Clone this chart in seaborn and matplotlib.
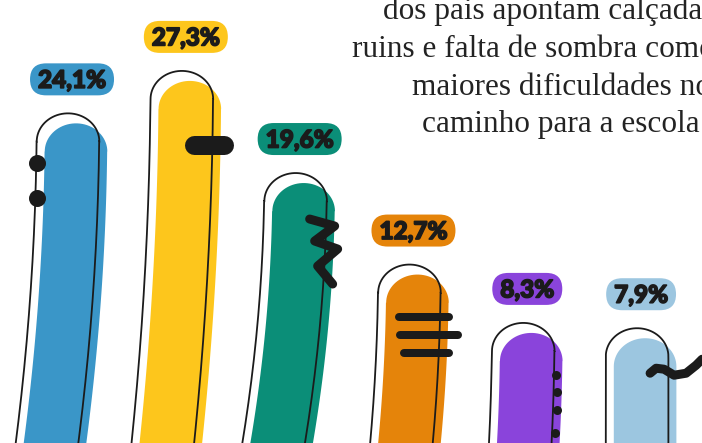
import numpy as np
import matplotlib
matplotlib.use("Agg")
import matplotlib.pyplot as plt
import matplotlib.patches as mpatches
import matplotlib.transforms as mtransforms
import matplotlib.patheffects as pe
from matplotlib.path import Path
import seaborn as sns

# data
categories = ["item 1", "item 2", "item 3", "item 4", "item 5", "item 6"]
values = [24.1, 27.3, 19.6, 12.7, 8.3, 7.9]
labels = [f"{v:.1f}".replace(".", ",") + "%" for v in values]
colors = ["#3a96c8", "#fdc61c", "#0b8e78", "#e5840a", "#8a44db", "#9cc6e0"]
title_lines = [
    "dos pais apontam calçadas",
    "ruins e falta de sombra como",
    "maiores dificuldades no",
    "caminho para a escola",
]

# style: sideways drift (px) of each tube at the bottom edge
drift = [-21, -19, -22, -8, -3, 0]
INK = "#1b1b1b"
W, H, DPI = 702, 443, 100
PT = 72.0 / DPI  # px -> pt

sns.set_theme(style="white")
fig = plt.figure(figsize=(W / DPI, H / DPI), dpi=DPI)
ax = fig.add_axes([0, 0, 1, 1])

sns.barplot(x=categories, y=values, hue=categories, palette=colors,
            width=0.55, legend=False, saturation=1, ax=ax)
ax.set_xlim(-0.668, 5.50)
ax.set_ylim(0, 33.4)
ax.axis("off")

ident = mtransforms.IdentityTransform()


def tube(cx, ytop, half, dr, n=50):
    """Rounded-top tube in display px, bending sideways towards the bottom."""
    yc = ytop - half * 0.9
    off = lambda y: dr * ((ytop - y) / ytop) ** 2
    ys = np.linspace(-25, yc, n)
    left = [(cx - half + off(y), y) for y in ys]
    th = np.linspace(np.pi, 0, 40)
    arc = [(cx + half * np.cos(t), yc + 0.9 * half * np.sin(t)) for t in th]
    right = [(cx + half + off(y), y) for y in ys[::-1]]
    return Path(left + arc + right)


bars = [b for c in ax.containers for b in c]
tops = []
for i, bar in enumerate(bars):
    x0, x1 = bar.get_x(), bar.get_x() + bar.get_width()
    (px0, py), (px1, _) = ax.transData.transform([(x0, bar.get_height()), (x1, 0)])
    cx, half = (px0 + px1) / 2, (px1 - px0) / 2
    bar.set_visible(False)
    ax.add_patch(mpatches.PathPatch(tube(cx, py, half, drift[i]), transform=ident,
                                    fc=colors[i], ec="none", zorder=2))
    ax.add_patch(mpatches.PathPatch(tube(cx - 8, py + 10, half, drift[i]), transform=ident,
                                    fc="none", ec=INK, lw=1.3, zorder=3))
    tops.append((cx, py))


def deco_line(i, pts, lw):
    cx, ty = tops[i]
    xs = [cx + dx for dx, d in pts]
    ys = [ty - d for dx, d in pts]
    ax.plot(xs, ys, color=INK, lw=lw * PT, solid_capstyle="round",
            solid_joinstyle="round", transform=ident, zorder=4, clip_on=False)


def deco_dots(i, pts, size):
    cx, ty = tops[i]
    ax.plot([cx + dx for dx, d in pts], [ty - d for dx, d in pts], "o",
            color=INK, ms=size * PT, mew=0, transform=ident, zorder=4, clip_on=False)


deco_dots(0, [(-39, 40), (-39, 75)], 17)
deco_line(1, [(4, 64), (34, 64)], 19)
deco_line(2, [(6, 36), (31, 43), (11, 58), (34, 66), (14, 83), (29, 101)], 9)
deco_line(3, [(-18, 42), (32, 42)], 8)
deco_line(3, [(-17, 60), (41, 60)], 8)
deco_line(3, [(-13, 78), (32, 78)], 8)
deco_dots(4, [(25, 42), (26, 59), (26, 77), (24, 100)], 9)
deco_line(5, [(5, 35), (11, 30), (19, 31), (29, 37), (41, 35), (51, 27), (57, 21)], 9)

# value pills above each tube
fig.canvas.draw()
renderer = fig.canvas.get_renderer()
for i, lab in enumerate(labels):
    cx, ty = tops[i]
    yc = ty + 44
    t = ax.text(cx - 4, yc - 8.5, lab, transform=ident, ha="center", va="baseline",
                fontsize=17.5, fontweight="black", family=["Lato", "DejaVu Sans"],
                color=INK, zorder=6,
                path_effects=[pe.withStroke(linewidth=1.2, foreground=INK)])
    bw = t.get_window_extent(renderer).width + 16
    bh = 32
    ax.add_patch(mpatches.FancyBboxPatch((cx - 4 - bw / 2, yc - bh / 2), bw, bh,
                                         boxstyle=f"round,pad=0,rounding_size={bh / 2}",
                                         transform=ident, fc=colors[i], ec="none",
                                         zorder=5, clip_on=False))

# headline text, cut by the right edge like the source
line_pos = [(383, 19), (352, 57), (412, 95), (422, 132)]
for (lx, ly), line in zip(line_pos, title_lines):
    fig.text(lx / W, 1 - ly / H, line, ha="left", va="baseline", fontsize=22.5,
             family="Liberation Serif", color="#232323")

fig.savefig("out.png", dpi=DPI)
